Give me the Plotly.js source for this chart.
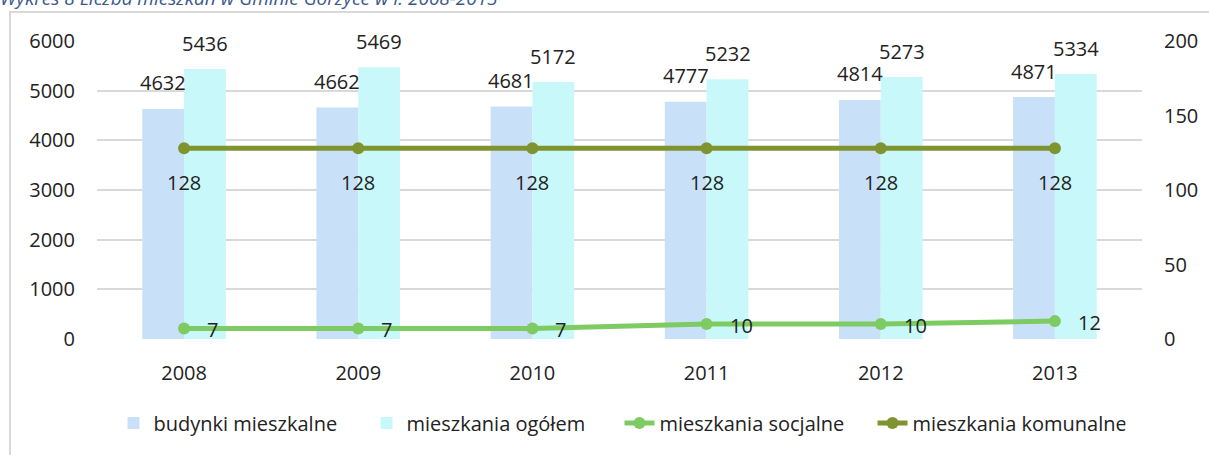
<!DOCTYPE html>
<html>
<head>
<meta charset="utf-8">
<script src="https://cdn.plot.ly/plotly-3.0.1.min.js"></script>
<style>
  html, body { margin: 0; padding: 0; background: #ffffff; }
  #wrap { position: relative; width: 1209px; height: 455px; overflow: hidden; }
  #chart { position: absolute; left: 0; top: 0; width: 1209px; height: 455px; }
  #frame { position: absolute; left: 9px; top: 11px; width: 1300px; height: 500px;
           border: 2px solid #D9D9D9; box-sizing: border-box; pointer-events: none; }
</style>
</head>
<body>
<div id="wrap">
  <div id="chart"></div>
  <div id="frame"></div>
</div>
<script>
// ---- data ----
const years = ['2008', '2009', '2010', '2011', '2012', '2013'];
const budynkiMieszkalne = [4632, 4662, 4681, 4777, 4814, 4871];
const mieszkaniaOgolem = [5436, 5469, 5172, 5232, 5273, 5334];
const mieszkaniaSocjalne = [7, 7, 7, 10, 10, 12];
const mieszkaniaKomunalne = [128, 128, 128, 128, 128, 128];
const seriesNames = ['budynki mieszkalne', 'mieszkania ogółem', 'mieszkania socjalne', 'mieszkania komunalne'];
const titleText = 'Wykres 8 Liczba mieszkań w Gminie Gorzyce w l. 2008-2013';

// ---- styles ----
const FONT = 'Open Sans, Noto Sans, sans-serif';
const TXT = '#222222';
const C_BUD = '#C9E1F8';
const C_OG = '#C8F8F9';
const C_SOC = '#7DCB62';
const C_KOM = '#7F942E';

const traces = [
  { type: 'bar', name: seriesNames[0], x: years, y: budynkiMieszkalne,
    marker: { color: C_BUD }, yaxis: 'y', hoverinfo: 'y' },
  { type: 'bar', name: seriesNames[1], x: years, y: mieszkaniaOgolem,
    marker: { color: C_OG }, yaxis: 'y', hoverinfo: 'y' },
  { type: 'scatter', mode: 'lines+markers', name: seriesNames[2], x: years, y: mieszkaniaSocjalne,
    yaxis: 'y2', line: { color: C_SOC, width: 5 }, marker: { color: C_SOC, size: 12 } },
  { type: 'scatter', mode: 'lines+markers', name: seriesNames[3], x: years, y: mieszkaniaKomunalne,
    yaxis: 'y2', line: { color: C_KOM, width: 5 }, marker: { color: C_KOM, size: 12 } }
];

// data labels built from the arrays (x given as category index)
const annotations = [];
const BAR_OFF = 21;
years.forEach((yr, i) => {
  annotations.push({ x: i, y: budynkiMieszkalne[i], xref: 'x', yref: 'y', text: String(budynkiMieszkalne[i]),
    showarrow: false, xshift: -BAR_OFF, yshift: 26, yanchor: 'middle', xanchor: 'center',
    font: { family: FONT, size: 20, color: TXT } });
  annotations.push({ x: i, y: mieszkaniaOgolem[i], xref: 'x', yref: 'y', text: String(mieszkaniaOgolem[i]),
    showarrow: false, xshift: BAR_OFF, yshift: 26, yanchor: 'middle', xanchor: 'center',
    font: { family: FONT, size: 20, color: TXT } });
  annotations.push({ x: i, y: mieszkaniaKomunalne[i], xref: 'x', yref: 'y2', text: String(mieszkaniaKomunalne[i]),
    showarrow: false, yshift: -34, yanchor: 'middle', xanchor: 'center',
    font: { family: FONT, size: 20, color: TXT } });
  annotations.push({ x: i, y: mieszkaniaSocjalne[i], xref: 'x', yref: 'y2', text: String(mieszkaniaSocjalne[i]),
    showarrow: false, xshift: 21, yshift: -1, yanchor: 'middle', xanchor: 'left',
    font: { family: FONT, size: 20, color: TXT } });
});

const layout = {
  width: 1209, height: 455,
  margin: { l: 97, r: 67, t: 41, b: 113 },
  paper_bgcolor: '#ffffff', plot_bgcolor: '#ffffff',
  font: { family: FONT, size: 20, color: TXT },
  title: { text: '<i>' + titleText + '</i>', xref: 'container', yref: 'container',
           x: 0.0, xanchor: 'left', y: 0.99, yanchor: 'bottom',
           font: { family: FONT, size: 19, color: '#3B5A8C' } },
  barmode: 'group', bargap: 0.52, bargroupgap: 0,
  showlegend: true,
  legend: { orientation: 'h', x: 0.5, xanchor: 'center', y: -0.282, yanchor: 'middle',
            font: { family: FONT, size: 20, color: TXT }, itemwidth: 30, traceorder: 'normal',
            entrywidth: 208, entrywidthmode: 'pixels' },
  xaxis: { type: 'category', range: [-0.5, 5.5], showgrid: false, zeroline: false, showline: false, ticks: '',
           ticklabelstandoff: 20, tickfont: { family: FONT, size: 20, color: TXT } },
  yaxis: { range: [0, 6000], dtick: 1000, tick0: 0, showgrid: true, gridcolor: '#D9D9D9', gridwidth: 2,
           zeroline: false, showline: false, ticks: '', ticklabelstandoff: 21,
           tickfont: { family: FONT, size: 20, color: TXT } },
  yaxis2: { range: [0, 200], dtick: 50, tick0: 0, overlaying: 'y', side: 'right', showgrid: false,
            zeroline: false, showline: false, ticks: '', ticklabelstandoff: 21,
            tickfont: { family: FONT, size: 20, color: TXT } },
  annotations: annotations
};

Plotly.newPlot('chart', traces, layout, { displayModeBar: false, staticPlot: true });
</script>
</body>
</html>
